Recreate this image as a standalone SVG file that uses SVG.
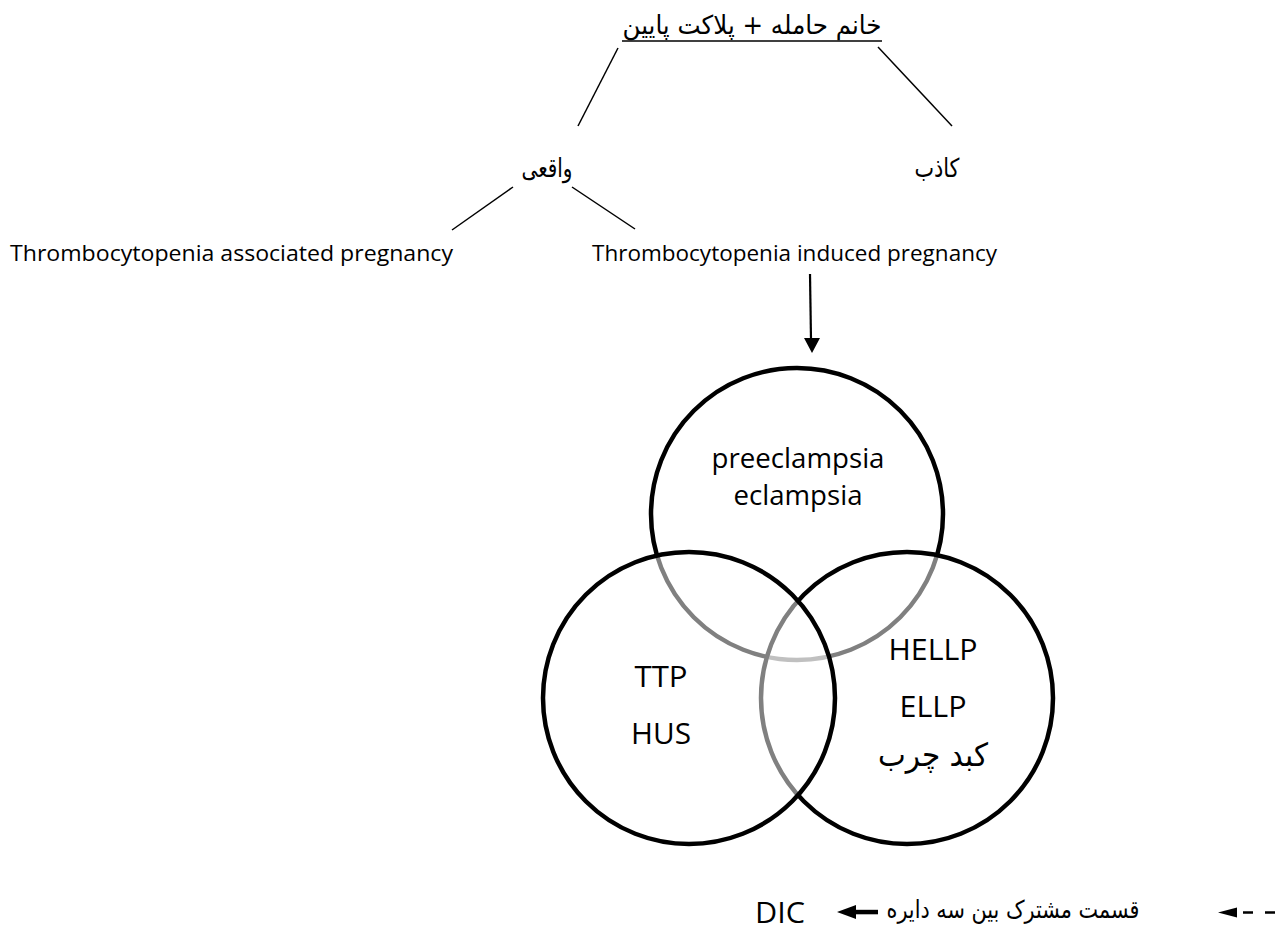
<svg xmlns="http://www.w3.org/2000/svg" width="1283" height="932" viewBox="0 0 1283 932">
<style>
.fa{font-family:"DejaVu Sans","Noto Sans",sans-serif;fill:#000;text-anchor:middle}
.en{font-family:"Open Sans","Noto Sans",sans-serif;fill:#000}
.c{text-anchor:middle}
.ln{stroke:#000;stroke-width:1.5;fill:none}
.circ{fill:#fff;fill-opacity:0.5;stroke:#000;stroke-width:4.5}
</style>
<rect width="1283" height="932" fill="#fff"/>
<g id="connectors">
<line class="ln" x1="622" y1="41" x2="882" y2="41"/>
<line class="ln" x1="618" y1="48" x2="578" y2="126"/>
<line class="ln" x1="878" y1="47" x2="952" y2="126"/>
<line class="ln" x1="513" y1="187" x2="452" y2="230"/>
<line class="ln" x1="572" y1="187" x2="635" y2="229"/>
<line x1="810" y1="274" x2="811" y2="340" stroke="#000" stroke-width="2.2"/>
<polygon points="804,338 820,338 812,353" fill="#000"/>
</g>
<g id="root"><text class="fa" x="752" y="34" font-size="26" textLength="259" lengthAdjust="spacingAndGlyphs">خانم حامله + پلاکت پایین</text></g>
<g id="real"><text class="fa" x="547" y="177" font-size="26" textLength="51" lengthAdjust="spacingAndGlyphs">واقعی</text></g>
<g id="false"><text class="fa" x="937" y="177" font-size="26" textLength="45" lengthAdjust="spacingAndGlyphs">کاذب</text></g>
<g id="assoc"><text class="en" x="10" y="261" font-size="22" textLength="443" lengthAdjust="spacingAndGlyphs">Thrombocytopenia associated pregnancy</text></g>
<g id="induced"><text class="en" x="592" y="261" font-size="22" textLength="405" lengthAdjust="spacingAndGlyphs">Thrombocytopenia induced pregnancy</text></g>
<g id="venn">
<circle id="c-pre" class="circ" cx="797" cy="514" r="146"/>
<circle id="c-hellp" class="circ" cx="907" cy="698" r="146"/>
<circle id="c-ttp" class="circ" cx="689" cy="698" r="146"/>
</g>
<g id="pre">
<text class="en c" x="798" y="468" font-size="27" textLength="173" lengthAdjust="spacingAndGlyphs">preeclampsia</text>
<text class="en c" x="798" y="505" font-size="27" textLength="129" lengthAdjust="spacingAndGlyphs">eclampsia</text>
</g>
<g id="ttp">
<text class="en c" x="661" y="687" font-size="30" textLength="53" lengthAdjust="spacingAndGlyphs">TTP</text>
<text class="en c" x="661" y="744" font-size="30" textLength="60" lengthAdjust="spacingAndGlyphs">HUS</text>
</g>
<g id="hellp">
<text class="en c" x="933" y="660" font-size="30" textLength="89" lengthAdjust="spacingAndGlyphs">HELLP</text>
<text class="en c" x="933" y="717" font-size="30" textLength="67" lengthAdjust="spacingAndGlyphs">ELLP</text>
<text class="fa" x="933" y="766" font-size="32" textLength="110" lengthAdjust="spacingAndGlyphs">کبد چرب</text>
</g>
<g id="legend">
<text class="en" x="755" y="923" font-size="30" textLength="50" lengthAdjust="spacingAndGlyphs">DIC</text>
<polygon points="837,912 856,905 856,919" fill="#000"/>
<rect x="854" y="909.8" width="24" height="4.5" fill="#000"/>
<text class="fa" x="1013" y="918" font-size="25" textLength="253" lengthAdjust="spacingAndGlyphs">قسمت مشترک بین سه دایره</text>
<polygon points="1218,912.5 1237,907.5 1237,917.5" fill="#000"/>
<line x1="1243" y1="912.5" x2="1275" y2="912.5" stroke="#000" stroke-width="2.5" stroke-dasharray="10 12"/>
</g>
</svg>
